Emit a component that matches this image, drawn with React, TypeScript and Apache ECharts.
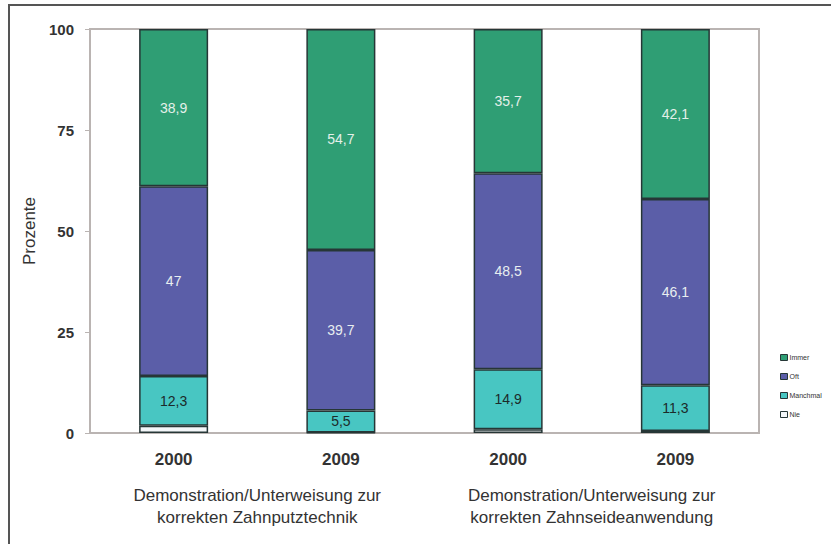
import React, { useEffect, useRef } from "react";
import * as echarts from "echarts";

// Years per bar and the two survey topics they belong to
const years = ["2000", "2009", "2000", "2009"];
const topics = [
  "Demonstration/Unterweisung zur\nkorrekten Zahnputztechnik",
  "Demonstration/Unterweisung zur\nkorrekten Zahnseideanwendung",
];

// Share of answers in percent, per bar
const nie = [1.8, 0.1, 0.9, 0.5];
const manchmal = [12.3, 5.5, 14.9, 11.3];
const oft = [47, 39.7, 48.5, 46.1];
const immer = [38.9, 54.7, 35.7, 42.1];

const yTicks = [0, 25, 50, 75, 100];

const FONT = "'Liberation Sans', Arial, Helvetica, sans-serif";
const EDGE = "#263636";

const fmt = (p: any) => String(p.value).replace(".", ",");

export default function App() {
  const ref = useRef<HTMLDivElement>(null);

  useEffect(() => {
    if (!ref.current) return;
    const chart = echarts.init(ref.current, null, { renderer: "svg" });

    const seg = (
      name: string,
      data: number[],
      color: string,
      labelColor: string | null
    ) => ({
      name,
      type: "bar",
      stack: "total",
      xAxisIndex: 0,
      barWidth: 69,
      data,
      itemStyle: { color, borderColor: EDGE, borderWidth: 1.5 },
      label: labelColor
        ? {
            show: true,
            position: "inside",
            formatter: fmt,
            color: labelColor,
            fontSize: 14,
            fontFamily: FONT,
          }
        : { show: false },
      emphasis: { disabled: true },
    });

    chart.setOption({
      animation: false,
      backgroundColor: "#ffffff",
      textStyle: { fontFamily: FONT },
      grid: {
        left: 90,
        right: 72,
        top: 29,
        bottom: 111,
        show: true,
        borderColor: "#bab4b2",
        borderWidth: 2,
      },
      legend: {
        orient: "vertical",
        left: 775,
        top: 349,
        itemWidth: 7,
        itemHeight: 6,
        itemGap: 12,
        data: ["Immer", "Oft", "Manchmal", "Nie"],
        textStyle: { fontSize: 7, color: "#333", padding: [0, 0, 0, -3] },
        icon: "rect",
        itemStyle: { borderColor: EDGE, borderWidth: 1 },
        selectedMode: false,
      },
      xAxis: [
        {
          type: "category",
          data: years,
          position: "bottom",
          axisLine: { show: true, lineStyle: { color: "#bab4b2", width: 2 } },
          axisTick: { show: false },
          axisLabel: {
            margin: 18,
            fontSize: 17,
            fontWeight: "bold",
            color: "#333",
            fontFamily: FONT,
          },
        },
        {
          type: "category",
          data: topics,
          position: "bottom",
          axisLine: { show: false },
          axisTick: { show: false },
          axisLabel: {
            margin: 51,
            fontSize: 17,
            lineHeight: 22,
            color: "#333",
            fontFamily: FONT,
          },
        },
      ],
      yAxis: {
        type: "value",
        min: yTicks[0],
        max: yTicks[yTicks.length - 1],
        interval: 25,
        name: "Prozente",
        nameLocation: "middle",
        nameGap: 52,
        nameRotate: 90,
        nameTextStyle: { fontSize: 17, color: "#333", fontFamily: FONT },
        axisLine: { show: true, lineStyle: { color: "#bab4b2", width: 2 } },
        axisTick: { show: true, length: 5, lineStyle: { color: "#bab4b2" } },
        splitLine: { show: false },
        axisLabel: {
          margin: 16,
          fontSize: 15,
          fontWeight: "bold",
          color: "#333",
          fontFamily: FONT,
        },
      },
      graphic: [
        {
          type: "rect",
          shape: { x: 9, y: 5, width: 830, height: 550 },
          style: { fill: "none", stroke: "#555", lineWidth: 2 },
          silent: true,
        },
      ],
      series: [
        seg("Nie", nie, "#f3f6f8", null),
        seg("Manchmal", manchmal, "#48c6c2", "#1c2a2a"),
        seg("Oft", oft, "#5b5ea8", "#e8eef0"),
        seg("Immer", immer, "#2f9e74", "#e4f0ea"),
      ],
    });

    return () => chart.dispose();
  }, []);

  return (
    <div
      ref={ref}
      style={{ position: "absolute", left: 0, top: 0, width: 831, height: 544 }}
    />
  );
}
